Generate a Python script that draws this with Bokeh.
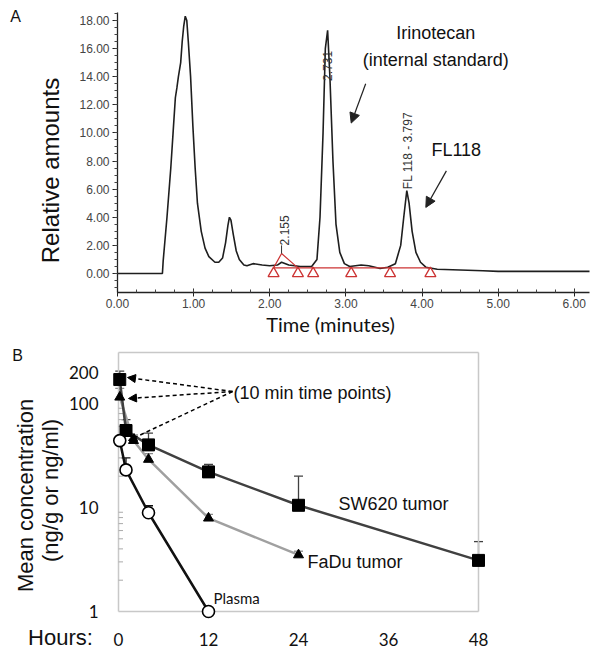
import math
from bokeh.plotting import figure
from bokeh.models import (Label, Arrow, NormalHead, Whisker, TeeHead, ColumnDataSource,
                          FixedTicker, Range1d)
from bokeh.layouts import column
from bokeh.embed import file_html
from bokeh.resources import INLINE

# ---------------- Panel A: chromatogram ----------------
chrom_time = [0.00, 0.58, 0.59, 0.60, 0.65, 0.70, 0.73, 0.76, 0.78, 0.80, 0.83, 0.85, 0.87,
              0.89, 0.91, 0.93, 0.96, 0.99, 1.02, 1.05, 1.10, 1.15, 1.20, 1.28, 1.33, 1.38,
              1.42, 1.45, 1.47, 1.49, 1.52, 1.56, 1.60, 1.66, 1.70, 1.78, 1.90, 2.00, 2.10,
              2.155, 2.25, 2.40, 2.55, 2.62, 2.66, 2.70, 2.73, 2.76, 2.79, 2.83, 2.87, 2.92,
              2.98, 3.05, 3.20, 3.30, 3.45, 3.55, 3.65, 3.72, 3.76, 3.80, 3.83, 3.87, 3.92,
              3.98, 4.05, 4.20, 4.50, 4.80, 5.00, 5.50, 6.20]
chrom_signal = [0.0, 0.0, 0.0, 0.9, 4.0, 7.5, 10.0, 12.5, 13.2, 14.0, 15.0, 16.5, 17.6,
                18.3, 18.0, 16.5, 14.0, 10.5, 7.5, 5.0, 3.0, 1.8, 1.2, 0.8, 0.8, 1.1,
                2.2, 3.4, 4.0, 3.8, 2.8, 1.6, 1.0, 0.6, 0.55, 0.7, 0.6, 0.55, 0.6,
                0.8, 0.6, 0.5, 0.5, 1.0, 4.0, 10.0, 16.0, 17.3, 14.0, 8.0, 3.5, 1.5,
                0.7, 0.5, 0.6, 0.55, 0.35, 0.45, 0.7, 2.0, 4.0, 5.9, 5.0, 3.0, 1.5,
                0.8, 0.45, 0.3, 0.25, 0.2, 0.15, 0.15, 0.15]
integ_marks_t = [2.05, 2.37, 2.57, 3.07, 3.58, 4.11]
integ_mark_v = 0.0
integ_line_v = 0.4
small_peak_t = [2.05, 2.155, 2.37]
small_peak_v = [0.4, 1.42, 0.4]
xticks_a = [0, 1, 2, 3, 4, 5, 6]
xtick_labels_a = ["0.00", "1.00", "2.00", "3.00", "4.00", "5.00", "6.00"]
yticks_a = [0, 2, 4, 6, 8, 10, 12, 14, 16, 18]
ytick_labels_a = ["0.00", "2.00", "4.00", "6.00", "8.00", "10.00", "12.00", "14.00", "16.00", "18.00"]
xbounds_a = (0, 6.2)
ybounds_a = (-1.35, 18.57)

# ---------------- Panel B: concentrations ----------------
sw_t = [0.167, 1, 4, 12, 24, 48]
sw_v = [170, 55, 40, 22, 10.5, 3.1]
sw_up = [205, 70, 52, 26, 20, 4.7]
fadu_t = [0.167, 2, 4, 12, 24]
fadu_v = [115, 44, 29, 7.9, 3.5]
fadu_up = [140, 50, 33, 8.6, 3.8]
pl_t = [0.167, 1, 4, 12]
pl_v = [44, 23, 8.9, 1.0]
pl_up = [48, 30, 10.4, 1.0]
xticks_b = [0, 12, 24, 36, 48]
yticks_b = [1, 10, 100, 200]
minor_b = [2, 3, 4, 5, 6, 7, 8, 9, 20, 30, 40, 50, 60, 70, 80, 90]
xbounds_b = (0, 48)
ybounds_b = (1, 310)

ARIAL = "Liberation Sans"
CAL = "Lato"

W = 600
HA = 340
HB = 313

# page-pixel helpers (the layout is drawn from the window's top-left corner)
def ax_t(px):   # panel A time
    return (px - 117) / 76.13

def ax_v(py):   # panel A signal
    return (273 - py) / 14.06

def bx_t(px):   # panel B hours
    return (px - 118) / 7.5

def bx_v(py):   # panel B conc (log)
    return 10 ** ((611 - py) / 104.0)

# ---------------- Figure A ----------------
pA = figure(width=W, height=HA, x_range=Range1d(ax_t(0), ax_t(W)),
            y_range=Range1d(ax_v(HA), ax_v(0)), output_backend="svg", toolbar_location=None,
            min_border=0)
pA.outline_line_color = None
pA.xgrid.visible = False
pA.ygrid.visible = False

pA.line(chrom_time, chrom_signal, line_color="#1e1e1e", line_width=1.6)
red = "#cc3333"
pA.line([integ_marks_t[0], integ_marks_t[-1]], [integ_line_v, integ_line_v], line_color=red, line_width=1.2)
pA.line(small_peak_t, small_peak_v, line_color=red, line_width=1.2)
pA.scatter(integ_marks_t, [integ_mark_v] * len(integ_marks_t), marker="triangle", size=11,
           fill_color=None, line_color=red, line_width=1.3)
pA.segment(x0=[2.155], y0=[1.42], x1=[2.155], y1=[2.0], line_color="#333", line_width=1)

xa = pA.xaxis[0]
ya = pA.yaxis[0]
xa.fixed_location = ybounds_a[0]
xa.bounds = xbounds_a
ya.fixed_location = xbounds_a[0]
ya.bounds = ybounds_a
for ax in (xa, ya):
    ax.axis_line_color = "#222"
    ax.axis_line_width = 1.3
    ax.major_tick_line_color = "#222"
    ax.minor_tick_line_color = "#444"
    ax.major_label_text_font = ARIAL
    ax.major_label_text_font_size = "12px"
    ax.major_label_text_color = "#444"

xa.ticker = FixedTicker(ticks=xticks_a, minor_ticks=[t / 4 for t in range(0, 25)])
xa.major_label_overrides = {t: l for t, l in zip(xticks_a, xtick_labels_a)}
xa.major_tick_in = 4
xa.major_tick_out = 4
xa.minor_tick_in = 3
xa.minor_tick_out = 0
xa.major_label_standoff = 3

ya.ticker = FixedTicker(ticks=yticks_a, minor_ticks=[t / 2 - 1 for t in range(0, 40)])
ya.major_label_overrides = {t: l for t, l in zip(yticks_a, ytick_labels_a)}
ya.major_tick_in = 0
ya.major_tick_out = 5
ya.minor_tick_in = 0
ya.minor_tick_out = 3
ya.major_label_standoff = 3

def lbl(p, x, y, text, size, font=ARIAL, align="center", angle=0.0, color="#111", baseline="middle"):
    p.add_layout(Label(x=x, y=y, text=text, text_font=font, text_font_size=size,
                       text_align=align, text_baseline=baseline, angle=angle, text_color=color))

lbl(pA, ax_t(15), ax_v(16), "A", "16px")
lbl(pA, ax_t(50), ax_v(170), "Relative amounts", "24px", angle=math.pi / 2)
lbl(pA, ax_t(330), ax_v(323), "Time (minutes)", "20px", font=CAL)
lbl(pA, 4.18, 17.1, "Irinotecan", "18px")
lbl(pA, 4.18, 15.15, "(internal standard)", "18px")
lbl(pA, 4.45, 8.75, "FL118", "18px")
lbl(pA, 2.2, 2.0, "2.155", "12px", align="left", angle=math.pi / 2, color="#333")
lbl(pA, 2.76, 13.7, "2.731", "12px", align="left", angle=math.pi / 2, color="#333")
lbl(pA, 3.81, 6.0, "FL 118 - 3.797", "12px", align="left", angle=math.pi / 2, color="#333")
pA.add_layout(Arrow(x_start=3.26, y_start=13.5, x_end=3.07, y_end=10.7, line_width=1.2,
                    line_color="#222", end=NormalHead(size=10, fill_color="#222", line_color="#222")))
pA.add_layout(Arrow(x_start=4.32, y_start=7.3, x_end=4.05, y_end=4.7, line_width=1.2,
                    line_color="#222", end=NormalHead(size=10, fill_color="#222", line_color="#222")))

# ---------------- Figure B ----------------
pB = figure(width=W, height=HB, y_axis_type="log", x_range=Range1d(bx_t(0), bx_t(W)),
            y_range=Range1d(bx_v(HA + HB), bx_v(HA)), output_backend="svg", toolbar_location=None,
            min_border=0)
pB.outline_line_color = None
pB.xgrid.visible = False
pB.ygrid.visible = False

frame_c = "#c8c8c8"
x0b, x1b = xbounds_b
y0b, y1b = ybounds_b
pB.segment(x0=[x0b, x1b, x0b, x0b], y0=[y0b, y0b, y1b, y0b], x1=[x0b, x1b, x1b, x1b], y1=[y1b, y1b, y1b, y0b],
           line_color=frame_c, line_width=1.5)
pB.segment(x0=[x0b] * len(minor_b), y0=minor_b, x1=[x0b + 0.6] * len(minor_b), y1=minor_b,
           line_color="#aaaaaa", line_width=1)

src_sw = ColumnDataSource(dict(t=sw_t, v=sw_v, up=sw_up))
src_fa = ColumnDataSource(dict(t=fadu_t, v=fadu_v, up=fadu_up))
src_pl = ColumnDataSource(dict(t=pl_t, v=pl_v, up=pl_up))

for src, col in ((src_sw, "#404040"), (src_fa, "#8a8a8a"), (src_pl, "#111111")):
    pB.add_layout(Whisker(base="t", lower="v", upper="up", source=src, line_color=col, line_width=1.3,
                          upper_head=TeeHead(size=9, line_color=col, line_width=1.3), lower_head=None))

pB.line("t", "v", source=src_fa, line_color="#a0a0a0", line_width=2.5)
pB.line("t", "v", source=src_sw, line_color="#404040", line_width=2.5)
pB.line("t", "v", source=src_pl, line_color="#111111", line_width=2.5)
pB.scatter("t", "v", source=src_fa, marker="triangle", size=10, fill_color="black", line_color="black")
pB.scatter("t", "v", source=src_sw, marker="square", size=12, fill_color="black", line_color="black")
pB.scatter("t", "v", source=src_pl, marker="circle", size=12, fill_color="white", line_color="black",
           line_width=1.6)

xb = pB.xaxis[0]
yb_ax = pB.yaxis[0]
xb.fixed_location = y0b
xb.bounds = xbounds_b
yb_ax.fixed_location = x0b
yb_ax.bounds = ybounds_b

xb.ticker = FixedTicker(ticks=xticks_b, minor_ticks=[])
xb.axis_line_color = None
xb.major_tick_line_color = None
xb.major_label_text_font = CAL
xb.major_label_text_font_size = "17px"
xb.major_label_text_color = "#111"
xb.major_label_standoff = 15

yb_ax.ticker = FixedTicker(ticks=yticks_b, minor_ticks=[])
yb_ax.axis_line_color = None
yb_ax.major_tick_line_color = None
yb_ax.major_label_overrides = {t: str(t) for t in yticks_b}
yb_ax.major_label_text_font = CAL
yb_ax.major_label_text_font_size = "17px"
yb_ax.major_label_text_color = "#111"
yb_ax.major_label_standoff = 14

dash_head = dict(size=8, fill_color="black", line_color="black")
tail_t, tail_v = bx_t(232), bx_v(391)
for (hx, hy) in ((bx_t(127), bx_v(377)), (bx_t(128), bx_v(398)), (bx_t(128), bx_v(440))):
    pB.add_layout(Arrow(x_start=tail_t, y_start=tail_v, x_end=hx, y_end=hy, line_width=1.5,
                        line_color="black", line_dash="4 3", end=NormalHead(**dash_head)))

lbl(pB, bx_t(233), bx_v(392), "(10 min time points)", "18px", align="left")
lbl(pB, bx_t(393), bx_v(503), "SW620 tumor", "18px")
lbl(pB, bx_t(307), bx_v(561), "FaDu tumor", "18px", align="left")
lbl(pB, bx_t(213), bx_v(597), "Plasma", "15px", font=CAL, align="left")
lbl(pB, bx_t(17), bx_v(355), "B", "16px")
lbl(pB, bx_t(25), bx_v(495), "Mean concentration", "22px", angle=math.pi / 2)
lbl(pB, bx_t(50), bx_v(490), "(ng/g or ng/ml)", "22px", angle=math.pi / 2)
lbl(pB, bx_t(60), bx_v(637), "Hours:", "22px")

layout = column(pA, pB, spacing=0)
open("out.html", "w").write(file_html(layout, INLINE))
